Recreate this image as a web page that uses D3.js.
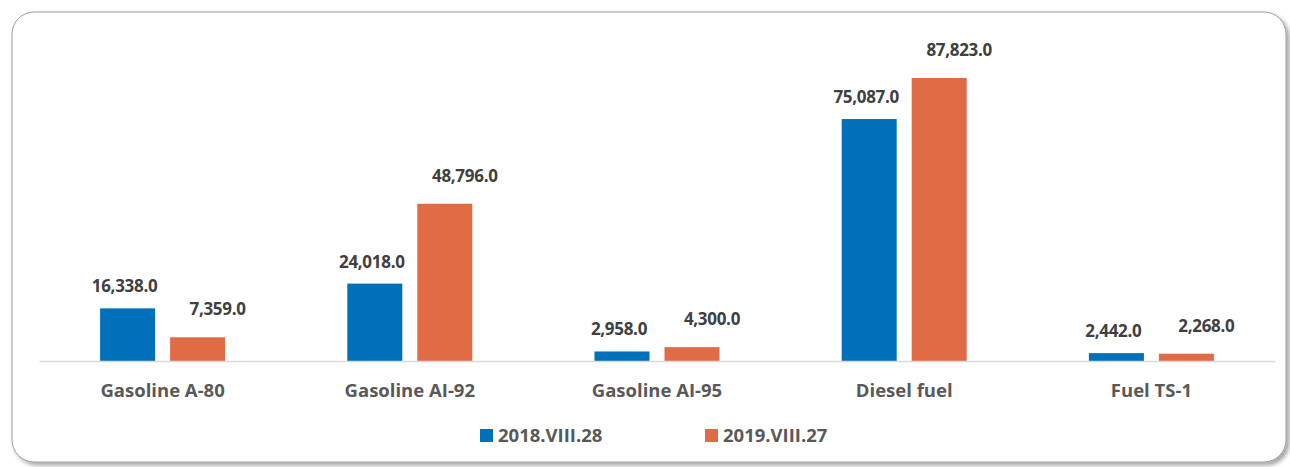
<!DOCTYPE html>
<html>
<head>
<meta charset="utf-8">
<script src="https://cdn.jsdelivr.net/npm/d3@7"></script>
<style>
  body { margin: 0; background: #fff; }
  svg { display: block; font-family: "Open Sans", sans-serif; font-weight: bold; }
</style>
</head>
<body>
<div id="chart"></div>
<script>
// data
var categories = ["Gasoline A-80", "Gasoline AI-92", "Gasoline AI-95", "Diesel fuel", "Fuel TS-1"];
var seriesNames = ["2018.VIII.28", "2019.VIII.27"];
var values2018 = [16338, 24018, 2958, 75087, 2442];
var values2019 = [7359, 48796, 4300, 87823, 2268];
var colors = ["#0070BA", "#E06C45"];

var width = 1290,
    height = 467;

var svg = d3.select("#chart").append("svg")
  .attr("width", width)
  .attr("height", height);

// frame with a soft shadow
var defs = svg.append("defs");
var f = defs.append("filter").attr("id", "shadow")
  .attr("x", "-5%").attr("y", "-5%").attr("width", "110%").attr("height", "115%");
f.append("feDropShadow")
  .attr("dx", 3).attr("dy", 3).attr("stdDeviation", 2)
  .attr("flood-color", "#000").attr("flood-opacity", 0.35);

svg.append("rect")
  .attr("x", 12).attr("y", 12)
  .attr("width", 1274).attr("height", 450)
  .attr("rx", 22).attr("ry", 22)
  .attr("fill", "#fff")
  .attr("stroke", "#9a9a9a")
  .attr("stroke-width", 1)
  .attr("filter", "url(#shadow)");

// scales
var x = d3.scaleBand().domain(categories).range([39, 1275]);
var x1 = d3.scaleBand().domain([0, 1])
  .range([x.bandwidth() / 2 - 62.5, x.bandwidth() / 2 + 62.5])
  .paddingInner(15 / 70);
var y = d3.scaleLinear().domain([0, 87823]).range([361, 78]);

var rows = categories.map(function(c, i) {
  return { cat: c, vals: [values2018[i], values2019[i]] };
});

var group = svg.selectAll(".cat")
  .data(rows)
  .enter().append("g")
  .attr("class", "cat")
  .attr("transform", function(d) { return "translate(" + x(d.cat) + ",0)"; });

group.selectAll("rect")
  .data(function(d) { return d.vals; })
  .enter().append("rect")
  .attr("x", function(d, i) { return x1(i); })
  .attr("width", x1.bandwidth())
  .attr("y", function(d) { return y(d); })
  .attr("height", function(d) { return y(0) - y(d); })
  .attr("fill", function(d, i) { return colors[i]; });

var fmt = d3.format(",.1f");
group.selectAll("text.val")
  .data(function(d) { return d.vals; })
  .enter().append("text")
  .attr("class", "val")
  .attr("x", function(d, i) { return x1(i) + x1.bandwidth() / 2 + (i == 1 ? 20 : -3); })
  .attr("y", function(d, i) { return y(d) - (i == 1 ? 22 : 16); })
  .attr("text-anchor", "middle")
  .attr("font-size", 17)
  .attr("letter-spacing", -0.3)
  .attr("fill", "#404040")
  .text(function(d) { return fmt(d); });

// axis
var axis = svg.append("g")
  .attr("transform", "translate(0,361)")
  .call(d3.axisBottom(x).tickSize(0).tickPadding(23));
axis.select(".domain").attr("stroke", "#d9d9d9").attr("stroke-width", 1.5);
axis.selectAll(".tick text")
  .attr("font-family", "Open Sans, sans-serif")
  .attr("font-weight", "bold")
  .attr("font-size", 18.5)
  .attr("fill", "#595959");

// legend
var legendX = [480, 705];
var legend = svg.selectAll(".legend")
  .data(seriesNames)
  .enter().append("g")
  .attr("class", "legend")
  .attr("transform", function(d, i) { return "translate(" + legendX[i] + ",429)"; });

legend.append("rect")
  .attr("width", 13).attr("height", 13)
  .attr("fill", function(d, i) { return colors[i]; });

legend.append("text")
  .attr("x", 18).attr("y", 13)
  .attr("font-size", 18.5)
  .attr("fill", "#595959")
  .text(function(d) { return d; });
</script>
</body>
</html>
